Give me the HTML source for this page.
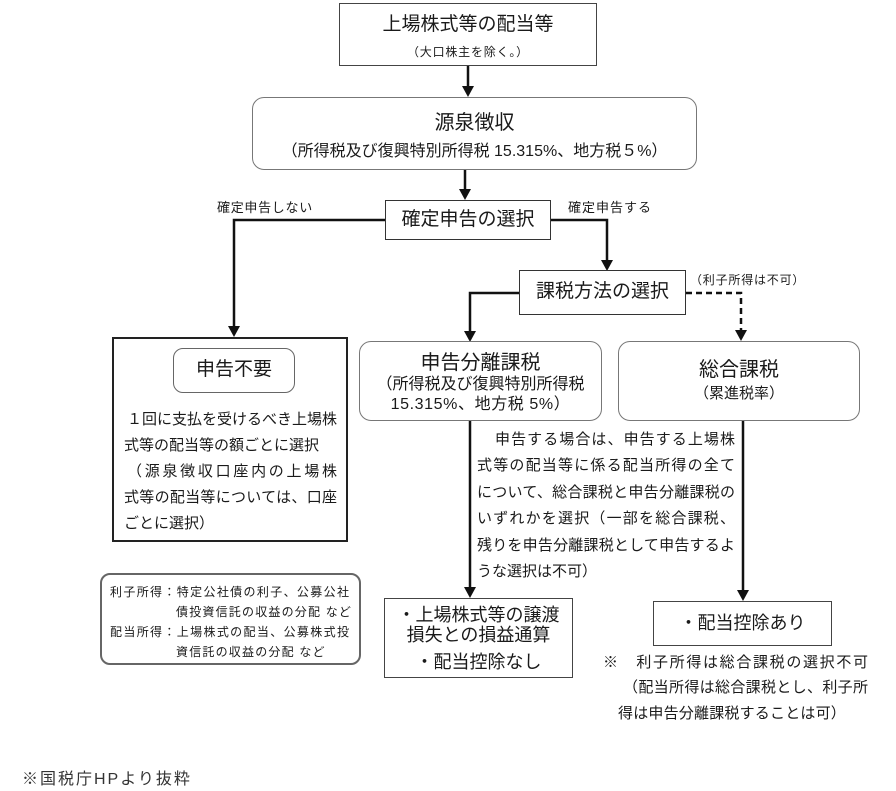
<!DOCTYPE html>
<html><head><meta charset="utf-8">
<style>
html,body{margin:0;padding:0;background:#fff;}
body{width:896px;height:790px;position:relative;overflow:hidden;font-family:"Liberation Sans","Noto Sans CJK JP",sans-serif;color:#1a1a1a;}
.a{position:absolute;white-space:nowrap;}
.box{position:absolute;box-sizing:border-box;background:#fff;}
.c{position:absolute;left:0;right:0;text-align:center;white-space:nowrap;}
.j{text-align:justify;text-align-last:justify;white-space:normal;}
</style></head><body>
<svg width="896" height="790" style="position:absolute;left:0;top:0" xmlns="http://www.w3.org/2000/svg">
<g stroke="#111" stroke-width="2.5" fill="none">
<line x1="468" y1="66" x2="468" y2="87"/>
<line x1="465" y1="170" x2="465" y2="190"/>
<polyline points="385,220 234,220 234,327"/>
<polyline points="551,220 607,220 607,261"/>
<polyline points="519,293 470,293 470,332"/>
<polyline points="686,293 741,293 741,331" stroke-dasharray="6,4"/>
<line x1="470" y1="421" x2="470" y2="588"/>
<line x1="743" y1="421" x2="743" y2="591"/>
</g>
<g fill="#111">
<polygon points="462,86 474,86 468,97"/>
<polygon points="459,189 471,189 465,200"/>
<polygon points="228,326 240,326 234,337"/>
<polygon points="601,260 613,260 607,271"/>
<polygon points="464,331 476,331 470,342"/>
<polygon points="735,330 747,330 741,341"/>
<polygon points="464,587 476,587 470,598"/>
<polygon points="737,590 749,590 743,601"/>
</g>
</svg>

<!-- top box -->
<div class="box" style="left:339px;top:3px;width:258px;height:63px;border:1.5px solid #444;">
<div class="c" style="top:9px;font-size:19px;line-height:24px;">上場株式等の配当等</div>
<div class="c" style="top:40px;font-size:12px;line-height:16px;letter-spacing:0.8px;">（大口株主を除く。）</div>
</div>

<!-- 源泉徴収 -->
<div class="box" style="left:252px;top:97px;width:445px;height:73px;border:1.5px solid #777;border-radius:12px;">
<div class="c" style="top:12px;font-size:20px;line-height:26px;">源泉徴収</div>
<div class="c" style="top:43px;font-size:16px;line-height:21px;">（所得税及び復興特別所得税 15.315%、地方税５%）</div>
</div>

<!-- 確定申告の選択 -->
<div class="box" style="left:385px;top:200px;width:166px;height:40px;border:1.5px solid #333;">
<div class="c" style="top:7px;font-size:19px;line-height:24px;">確定申告の選択</div>
</div>
<div class="a" style="left:217px;top:200px;font-size:13px;line-height:16px;letter-spacing:0.7px;">確定申告しない</div>
<div class="a" style="left:568px;top:200px;font-size:13px;line-height:16px;letter-spacing:1px;">確定申告する</div>

<!-- 課税方法の選択 -->
<div class="box" style="left:519px;top:270px;width:167px;height:45px;border:1.5px solid #333;">
<div class="c" style="top:9px;font-size:19px;line-height:24px;">課税方法の選択</div>
</div>
<div class="a" style="left:690px;top:273px;font-size:12px;line-height:15px;letter-spacing:0.8px;">（利子所得は不可）</div>

<!-- 申告不要 -->
<div class="box" style="left:112px;top:337px;width:236px;height:205px;border:2px solid #222;"></div>
<div class="box" style="left:173px;top:348px;width:122px;height:45px;border:1.5px solid #666;border-radius:10px;">
<div class="c" style="top:8px;font-size:19px;line-height:26px;">申告不要</div>
</div>
<div class="a" style="left:124px;top:407px;font-size:15px;line-height:26px;width:213px;">
<div class="j" style="padding-left:3px;">１回に支払を受けるべき上場株</div>
<div>式等の配当等の額ごとに選択</div>
<div class="j" style="padding-left:3px;">（源泉徴収口座内の上場株</div>
<div class="j">式等の配当等については、口座</div>
<div>ごとに選択）</div>
</div>

<!-- 申告分離課税 -->
<div class="box" style="left:359px;top:341px;width:243px;height:80px;border:1.5px solid #777;border-radius:12px;">
<div class="c" style="top:8px;font-size:20px;line-height:26px;">申告分離課税</div>
<div class="c" style="top:33px;font-size:16px;line-height:20px;">（所得税及び復興特別所得税</div>
<div class="c" style="top:53px;font-size:16px;line-height:20px;letter-spacing:0.6px;">15.315%、地方税 5%）</div>
</div>

<!-- 総合課税 -->
<div class="box" style="left:618px;top:341px;width:242px;height:80px;border:1.5px solid #777;border-radius:12px;">
<div class="c" style="top:15px;font-size:20px;line-height:26px;">総合課税</div>
<div class="c" style="top:42px;font-size:15px;line-height:19px;">（累進税率）</div>
</div>

<!-- paragraph -->
<div class="a" style="left:477px;top:427px;font-size:15px;line-height:26.4px;width:258px;white-space:normal;">
<div class="j" style="padding-left:18px;">申告する場合は、申告する上場株</div>
<div class="j">式等の配当等に係る配当所得の全て</div>
<div class="j">について、総合課税と申告分離課税の</div>
<div class="j">いずれかを選択（一部を総合課税、</div>
<div class="j">残りを申告分離課税として申告するよ</div>
<div style="white-space:nowrap;">うな選択は不可）</div>
</div>

<!-- note box -->
<div class="box" style="left:100px;top:573px;width:261px;height:92px;border:2.5px solid #666;border-radius:10px;"></div>
<div class="a" style="left:110px;top:582px;font-size:12px;line-height:20px;width:239px;white-space:normal;">
<div class="j">利子所得：特定公社債の利子、公募公社</div>
<div style="padding-left:66px;white-space:nowrap;letter-spacing:1.2px;">債投資信託の収益の分配 など</div>
<div class="j">配当所得：上場株式の配当、公募株式投</div>
<div style="padding-left:66px;white-space:nowrap;letter-spacing:1.2px;">資信託の収益の分配 など</div>
</div>

<!-- 損益通算 box -->
<div class="box" style="left:384px;top:598px;width:189px;height:80px;border:1.5px solid #444;">
<div class="c" style="top:6px;font-size:18px;line-height:20px;">・上場株式等の譲渡</div>
<div class="c" style="top:26px;font-size:18px;line-height:20px;">損失との損益通算</div>
<div class="c" style="top:53px;font-size:18px;line-height:20px;">・配当控除なし</div>
</div>

<!-- 配当控除あり -->
<div class="box" style="left:653px;top:601px;width:179px;height:45px;border:1.5px solid #444;">
<div class="c" style="top:10px;font-size:18px;line-height:22px;">・配当控除あり</div>
</div>

<div class="a" style="left:603px;top:653px;font-size:15px;line-height:20px;width:265px;white-space:normal;"><div class="j">※　利子所得は総合課税の選択不可</div></div>
<div class="a" style="left:623px;top:678px;font-size:15px;line-height:20px;width:245px;white-space:normal;"><div class="j">（配当所得は総合課税とし、利子所</div></div>
<div class="a" style="left:618px;top:704px;font-size:15px;line-height:20px;letter-spacing:0.2px;">得は申告分離課税することは可）</div>

<div class="a" style="left:22px;top:769px;font-size:16px;line-height:22px;color:#333;letter-spacing:2px;">※国税庁HPより抜粋</div>
</body></html>
